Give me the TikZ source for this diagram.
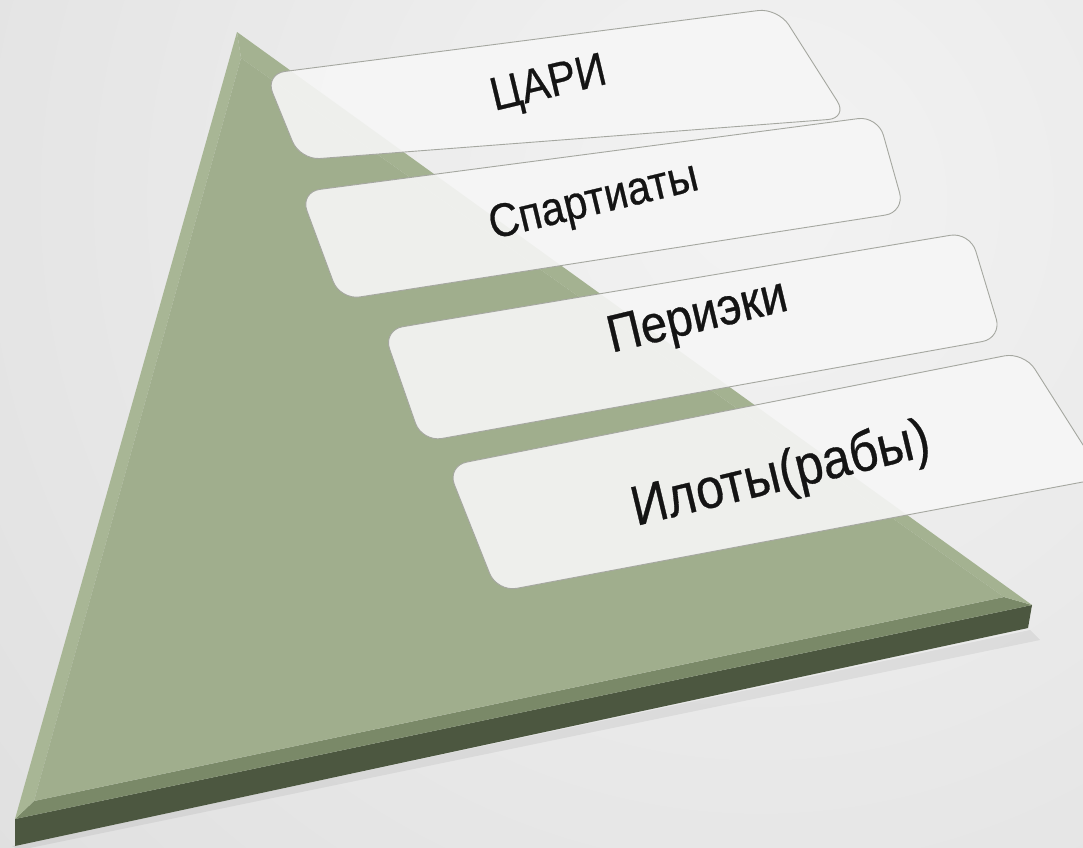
\documentclass[tikz,border=0pt]{standalone}
\usepackage{fontspec}
\setmainfont{Liberation Sans}[FakeBold=0.6]
\definecolor{bgin}{RGB}{243,243,243}
\definecolor{bgout}{RGB}{198,198,198}
\definecolor{face}{RGB}{160,174,141}
\definecolor{bevleft}{RGB}{168,182,149}
\definecolor{bevright}{RGB}{164,178,145}
\definecolor{bevbot}{RGB}{122,137,104}
\definecolor{side}{RGB}{76,87,64}
\definecolor{boxfill}{RGB}{246,246,246}
\definecolor{boxline}{RGB}{165,167,160}
\definecolor{txt}{RGB}{20,20,20}
\begin{document}
\begin{tikzpicture}[x=1pt,y=-1pt,
  layerbox/.style={fill=boxfill, fill opacity=0.91, draw=boxline, line width=0.9pt, rounded corners=20pt},
  layertext/.style={text=txt, inner sep=0pt, rotate=13.5, yscale=1.12}]
\useasboundingbox (0,0) rectangle (1083,847);
\begin{scope}
  \clip (0,0) rectangle (1083,847);
  \shade[inner color=bgin, outer color=bgout] (760,200) circle (2400pt);
\end{scope}
% soft shadow under the pyramid
\fill[black, opacity=0.06] (12,846) -- (1030,630) -- (1040,640) -- (20,850) -- cycle;
% pyramid
\coordinate (A) at (237,32);
\coordinate (B) at (15,819);
\coordinate (C) at (1032,605);
\coordinate (Ai) at (241,58);
\coordinate (Bi) at (34,801);
\coordinate (Ci) at (1004,597);
\coordinate (Bs) at (15,846);
\coordinate (Cs) at (1028,628);
\fill[side] (B) -- (C) -- (Cs) -- (Bs) -- cycle;
\fill[bevbot] (B) -- (C) -- (Ci) -- (Bi) -- cycle;
\fill[bevleft] (A) -- (B) -- (Bi) -- (Ai) -- cycle;
\fill[bevright] (A) -- (C) -- (Ci) -- (Ai) -- cycle;
\fill[face] (Ai) -- (Bi) -- (Ci) -- cycle;
% layers
\draw[layerbox] (265,74) -- (778,8) -- (848,118) -- (300,160) -- cycle;
\draw[layerbox] (300,192) -- (878,116) -- (905,212) -- (340,300) -- cycle;
\draw[layerbox] (383,330) -- (970,232) -- (1002,338) -- (422,442) -- cycle;
\draw[layerbox] (447,466) -- (1024,352) -- (1104,478) -- (497,592) -- cycle;
% texts
\node[layertext, font=\fontsize{42}{45}\selectfont] (t1) at (549,86) {ЦАРИ};
\node[layertext, font=\fontsize{42}{45}\selectfont] (t2) at (594,203) {Спартиаты};
\node[layertext, font=\fontsize{47}{50}\selectfont] (t3) at (698,319) {Периэки};
\node[layertext, font=\fontsize{50}{53}\selectfont] (t4) at (781,476) {Илоты(рабы)};
\end{tikzpicture}
\end{document}
